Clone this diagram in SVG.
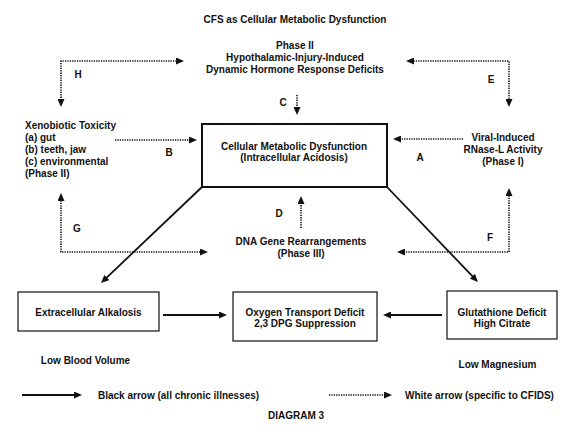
<svg xmlns="http://www.w3.org/2000/svg" width="577" height="444" viewBox="0 0 577 444">
<style>
text{font-family:"Liberation Sans",Arial,sans-serif;font-weight:bold;font-size:10px;fill:#111}
.m{text-anchor:middle}
.box{fill:none;stroke:#111;stroke-width:1.2}
.mainbox{fill:none;stroke:#111;stroke-width:2}
.dot{fill:none;stroke:#111;stroke-width:1.6;stroke-dasharray:1.3 1.1}
.sol{fill:none;stroke:#111;stroke-width:1.8}
</style>
<defs>
<marker id="ah" viewBox="0 0 8 7" refX="3" refY="3.5" markerWidth="8" markerHeight="7" markerUnits="userSpaceOnUse" orient="auto-start-reverse">
<path d="M0,0 L8,3.5 L0,7 z" fill="#111"/>
</marker>
</defs>
<rect width="577" height="444" fill="#fff"/>
<g id="title"><text class="m" x="295" y="23">CFS as Cellular Metabolic Dysfunction</text></g>
<g id="phase2">
<text class="m" x="295" y="49">Phase II</text>
<text class="m" x="295" y="61">Hypothalamic-Injury-Induced</text>
<text class="m" x="295" y="73">Dynamic Hormone Response Deficits</text>
</g>
<g id="cellular">
<rect class="mainbox" x="202" y="124" width="185" height="63"/>
<text class="m" x="294" y="150">Cellular Metabolic Dysfunction</text>
<text class="m" x="294" y="161">(Intracellular Acidosis)</text>
</g>
<g id="xenobiotic">
<text x="25" y="129">Xenobiotic Toxicity</text>
<text x="25" y="141">(a) gut</text>
<text x="25" y="153">(b) teeth, jaw</text>
<text x="25" y="165">(c) environmental</text>
<text x="25" y="177">(Phase II)</text>
</g>
<g id="viral">
<text class="m" x="503" y="141">Viral-Induced</text>
<text class="m" x="503" y="153">RNase-L Activity</text>
<text class="m" x="503" y="165">(Phase I)</text>
</g>
<g id="dna">
<text class="m" x="301" y="245">DNA Gene Rearrangements</text>
<text class="m" x="301" y="257">(Phase III)</text>
</g>
<g id="extracellular">
<rect class="box" x="18" y="292" width="141" height="39"/>
<text class="m" x="88.5" y="316">Extracellular Alkalosis</text>
</g>
<g id="oxygen">
<rect class="box" x="233" y="292" width="144" height="49"/>
<text class="m" x="305" y="316">Oxygen Transport Deficit</text>
<text class="m" x="305" y="327">2,3 DPG Suppression</text>
</g>
<g id="glutathione">
<rect class="box" x="447" y="291" width="110" height="48"/>
<text class="m" x="502" y="316">Glutathione Deficit</text>
<text class="m" x="502" y="327">High Citrate</text>
</g>
<g id="notes">
<text class="m" x="85.5" y="364">Low Blood Volume</text>
<text class="m" x="497.5" y="368">Low Magnesium</text>
</g>
<g id="connectors">
<path class="dot" d="M179,61 H61 V102" marker-start="url(#ah)" marker-end="url(#ah)"/>
<path class="dot" d="M411,61 H509 V102" marker-start="url(#ah)" marker-end="url(#ah)"/>
<path class="dot" d="M61,198 V252 H203" marker-start="url(#ah)" marker-end="url(#ah)"/>
<path class="dot" d="M509,193 V252 H402" marker-start="url(#ah)" marker-end="url(#ah)"/>
<path class="dot" d="M297,95 V110" marker-end="url(#ah)"/>
<path class="dot" d="M301,228 V201" marker-end="url(#ah)"/>
<path class="dot" d="M115,140 H192" marker-end="url(#ah)"/>
<path class="dot" d="M463,139 H398" marker-end="url(#ah)"/>
<path class="sol" d="M202,187 L104.6,279.6" marker-end="url(#ah)"/>
<path class="sol" d="M387,187 L474.5,278.4" marker-end="url(#ah)"/>
<path class="sol" d="M163,315 H222" marker-end="url(#ah)"/>
<path class="sol" d="M442,315 H388" marker-end="url(#ah)"/>
</g>
<g id="labels">
<text class="m" x="78" y="78">H</text>
<text class="m" x="491" y="83">E</text>
<text class="m" x="283" y="106">C</text>
<text class="m" x="169" y="156">B</text>
<text class="m" x="420" y="161">A</text>
<text class="m" x="279" y="217">D</text>
<text class="m" x="77" y="232">G</text>
<text class="m" x="490" y="241">F</text>
</g>
<g id="legend">
<path class="sol" d="M22,395 H77" marker-end="url(#ah)"/>
<text x="98" y="399">Black arrow (all chronic illnesses)</text>
<path class="dot" d="M329,395 H387" marker-end="url(#ah)"/>
<text x="405" y="399">White arrow (specific to CFIDS)</text>
<text class="m" x="296" y="419">DIAGRAM 3</text>
</g>
</svg>
